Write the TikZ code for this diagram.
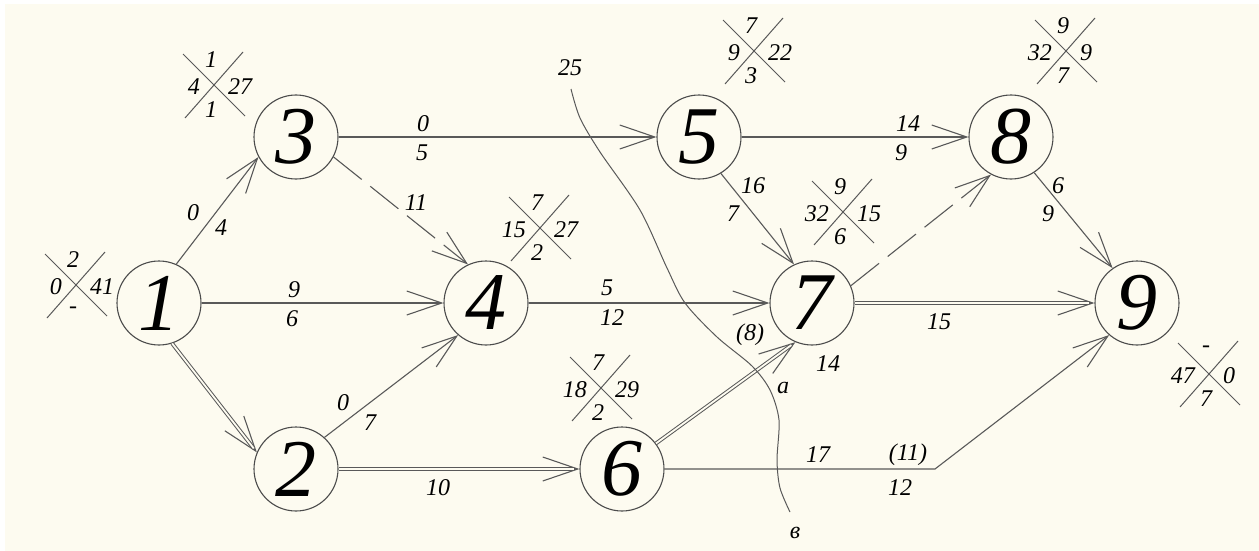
\documentclass[tikz,border=0pt]{standalone}
\usepackage{fontspec}
\setmainfont{Liberation Serif}
\usetikzlibrary{arrows.meta}
\definecolor{paper}{RGB}{253,251,240}

\begin{document}
\begin{tikzpicture}[
  x=1pt, y=-1pt,
  every node/.style={inner sep=0pt, font=\fontsize{24}{24}\selectfont\itshape},
  event/.style={circle, draw=black!70, line width=1.1pt, minimum size=84pt, fill=paper,
    font=\fontsize{82}{82}\selectfont\itshape},
  edge/.style={draw=black!65, line width=1.1pt, -{Straight Barb[length=35pt, width=24pt]}},
  dsh/.style={edge, dash pattern=on 36pt off 11pt},
  crit/.style={draw=black!65, line width=1pt, double=paper, double distance=1.8pt, shorten >=5pt},
  cross/.style={draw=black!65, line width=1pt}
]
\useasboundingbox (0,0) rectangle (1259,551);
\fill[paper] (5,4) rectangle (1259,551);

% events
\node[event] (n1) at (159,303)  {1};
\node[event] (n2) at (296,469)  {2};
\node[event] (n3) at (296,137)  {3};
\node[event] (n4) at (486,303)  {4};
\node[event] (n5) at (699,137)  {5};
\node[event] (n6) at (622,469)  {6};
\node[event] (n7) at (812,303)  {7};
\node[event] (n8) at (1011,137) {8};
\node[event] (n9) at (1137,303) {9};
\coordinate (b69) at (935,469);

% event parameters
\foreach \k/\cx/\cy/\t/\l/\r/\b in {1/76/285/2/0/41/-, 3/214/85/1/4/27/1, 4/540/228/7/15/27/2,
    5/754/51/7/9/22/3, 6/601/388/7/18/29/2, 7/843/212/9/32/15/6, 8/1066/51/9/32/9/7,
    9/1209/374/-/47/0/7} {
  \draw[cross] (\cx-31,\cy-31) -- (\cx+31,\cy+31);
  \draw[cross] (\cx+29,\cy-33) -- (\cx-29,\cy+33);
  \node (p\k t) at (\cx-3,\cy-25) {\t};
  \node[anchor=east] (p\k l) at (\cx-14,\cy+2) {\l};
  \node[anchor=west] (p\k r) at (\cx+14,\cy+2) {\r};
  \node (p\k b) at (\cx-3,\cy+25) {\b};
}

% works
\draw[edge] (n1.66) -- (n3.208);
\draw[edge] (n1.east) -- (n4.west);
\draw[edge] (n1.-72) -- (n2.157);
\draw[crit] (n1.-72) -- (n2.157);
\draw[edge] (n3.east) -- (n5.west);
\draw[dsh]  (n3.-28) -- (n4.115);
\draw[edge] (n2.48) -- (n4.229);
\draw[edge] (n2.east) -- (n6.west);
\draw[crit] (n2.east) -- (n6.west);
\draw[edge] (n4.east) -- (n7.west);
\draw[edge] (n5.east) -- (n8.west);
\draw[edge] (n5.-59) -- (n7.115);
\draw[edge] (n6.37) -- (n7.247);
\draw[crit] (n6.37) -- (n7.247);
\draw[dsh]  (n7.24) -- (n8.242);
\draw[edge] (n7.east) -- (n9.west);
\draw[crit] (n7.east) -- (n9.west);
\draw[edge] (n8.-57) -- (n9.125);
\draw[edge] (n6.east) -- (b69) -- (n9.229);

% work labels
\node (w13a) at (193,213) {0};
\node (w13b) at (221,228) {4};
\node (w14a) at (294,290) {9};
\node (w14b) at (292,319) {6};
\node (w35a) at (423,124) {0};
\node (w35b) at (422,153) {5};
\node (w34)  at (416,203) {11};
\node (w24a) at (343,403) {0};
\node (w24b) at (370,423) {7};
\node (w26)  at (438,488) {10};
\node (w47a) at (607,288) {5};
\node (w47b) at (612,318) {12};
\node (w58a) at (908,124) {14};
\node (w58b) at (901,153) {9};
\node (w57a) at (753,186) {16};
\node (w57b) at (733,214) {7};
\node (w67a) at (750,335) {(8)};
\node (w67b) at (828,364) {14};
\node (w79)  at (939,322) {15};
\node (w89a) at (1058,186) {6};
\node (w89b) at (1048,214) {9};
\node (w69a) at (818,455) {17};
\node (w69c) at (908,455) {(11)};
\node (w69b) at (900,488) {12};

% cut
\node (cut25) at (570,68) {25};
\node (cuta)  at (783,388) {a};
\node (cutv)  at (795,533) {в};
\draw[draw=black!65, line width=1pt] plot[smooth] coordinates {(571,89) (580,118) (600,152)
  (640,210) (667,268) (685,303) (717,337) (752,366) (770,390) (779,420) (777,460) (780,488) (790,512)};
\end{tikzpicture}
\end{document}
